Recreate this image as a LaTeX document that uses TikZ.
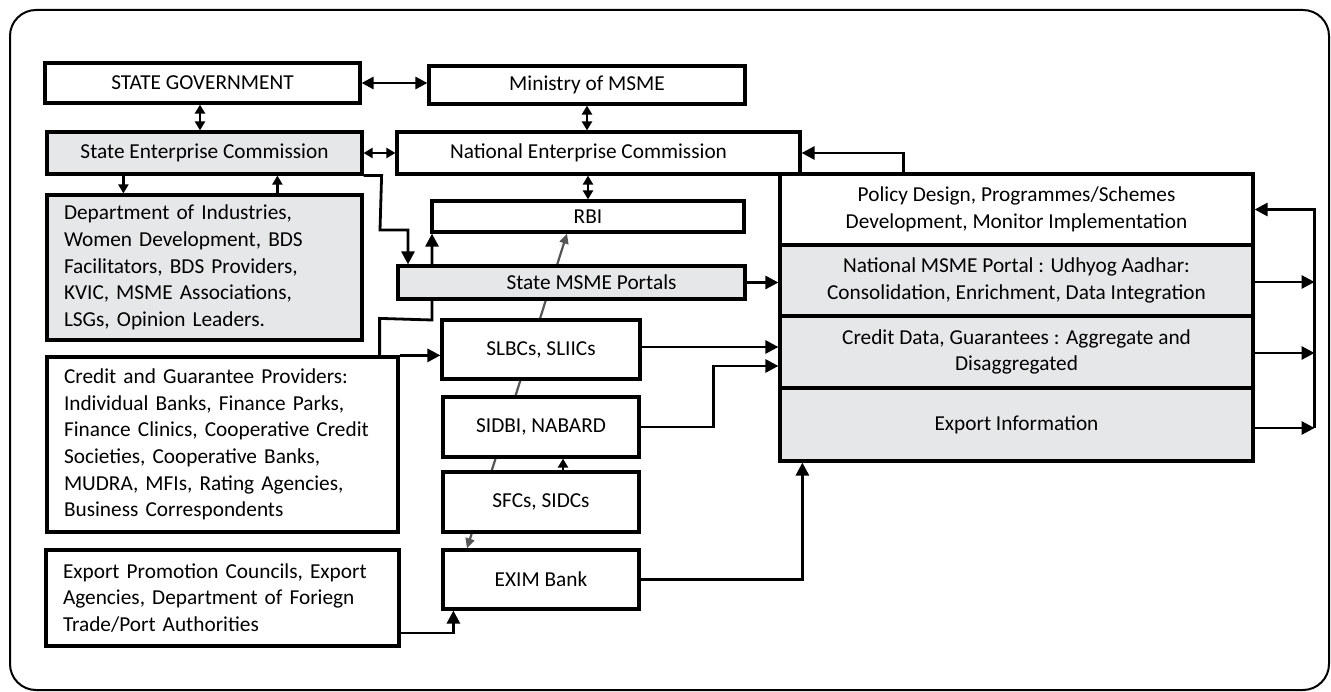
\documentclass[tikz,border=0pt]{standalone}
\usepackage{fontspec}
\setmainfont{Carlito}
\usetikzlibrary{arrows.meta,backgrounds,calc}
\definecolor{boxgray}{RGB}{230,231,232}
\definecolor{linegray}{RGB}{85,85,85}
\begin{document}
\begin{tikzpicture}[x=1pt,y=-1pt,
  box/.style={draw, line width=3.2pt, fill=white, align=center, inner sep=0pt,
    font=\fontsize{21.3}{26.7}\selectfont},
  gbox/.style={box, fill=boxgray},
  lbox/.style={align=left, inner xsep=17pt},
  arr/.style={line width=2.8pt, -{Triangle[length=13pt,width=13pt]}},
  sarr/.style={line width=2.8pt, -{Triangle[length=9pt,width=10pt]}},
  darr/.style={line width=2.8pt, {Triangle[length=12pt,width=12pt]}-{Triangle[length=12pt,width=12pt]}},
  vdarr/.style={line width=2.8pt, {Triangle[length=9pt,width=10pt]}-{Triangle[length=9pt,width=10pt]}},
  garr/.style={line width=2.2pt, draw=linegray, {Triangle[length=10pt,width=9pt,fill=linegray]}-{Triangle[length=10pt,width=9pt,fill=linegray]}},
]
\useasboundingbox (0,0) rectangle (1331,692);
\draw[line width=2pt, rounded corners=26pt] (10,10) rectangle (1329,690);

% left column
\node[box, minimum width=315pt, minimum height=40pt] (sg) at (202.5,83) {STATE GOVERNMENT};
\node[gbox, minimum width=315pt, minimum height=42pt] (sec) at (204.5,153) {State Enterprise Commission};
\node[gbox, lbox, text width=281pt, minimum height=145pt] (dept) at (204.5,267.5)
  {Department of Industries,\\ Women Development, BDS\\ Facilitators, BDS Providers,\\ KVIC, MSME Associations,\\ LSGs, Opinion Leaders.};
\node[box, lbox, text width=317pt, minimum height=175pt] (credit) at (222.5,444.5)
  {Credit and Guarantee Providers:\\ Individual Banks, Finance Parks,\\ Finance Clinics, Cooperative Credit\\ Societies, Cooperative Banks,\\ MUDRA, MFIs, Rating Agencies,\\ Business Correspondents};
\node[box, lbox, text width=319pt, minimum height=96pt] (export) at (222.5,598)
  {Export Promotion Councils, Export\\ Agencies, Department of Foriegn\\ Trade/Port Authorities};

% middle column
\node[box, minimum width=316pt, minimum height=38pt] (min) at (587,85) {Ministry of MSME};
\node[box, minimum width=403pt, minimum height=42pt] (nec) at (598.5,153) {National Enterprise Commission\hspace*{20pt}};
\node[box, minimum width=312pt, minimum height=31pt] (rbi) at (588,216.5) {RBI};
\node[gbox, minimum width=347pt, minimum height=33pt] (portal) at (571.5,282.5) {\hspace*{40pt}State MSME Portals};
\node[box, minimum width=198pt, minimum height=59pt] (slbc) at (541,349.5) {SLBCs, SLIICs};
\node[box, minimum width=196pt, minimum height=60pt] (sidbi) at (541,427) {SIDBI, NABARD};
\node[box, minimum width=196pt, minimum height=60pt] (sfc) at (541,502) {SFCs, SIDCs};
\node[box, minimum width=196pt, minimum height=59pt] (exim) at (541,579.5) {EXIM Bank};

% right block
\node[box, minimum width=473pt, minimum height=71pt] (policy) at (1016.5,209.5)
  {Policy Design, Programmes/Schemes\\ Development, Monitor Implementation};
\node[gbox, minimum width=473pt, minimum height=71pt] (natp) at (1016.5,280.5)
  {National MSME Portal : Udhyog Aadhar:\\ Consolidation, Enrichment, Data Integration};
\node[gbox, minimum width=473pt, minimum height=72pt] (cdata) at (1016.5,352)
  {Credit Data, Guarantees : Aggregate and\\ Disaggregated};
\node[gbox, minimum width=473pt, minimum height=73pt] (expi) at (1016.5,424.5)
  {Export Information};

% lines passing behind boxes
\begin{pgfonlayer}{background}
\draw[garr] ([xshift=-74pt]exim.north) -- ([xshift=-21pt]rbi.south);
\draw[arr] ([xshift=-20pt]credit.north east) -- ++(0,-37) -- (432,320) -- (432,320 |- rbi.south);
\end{pgfonlayer}

% connectors
\draw[darr] (sg.east) -- (sg.east -| min.west);
\draw[vdarr] (200,0 |- sg.south) -- (200,0 |- sec.north);
\draw[vdarr] (min.south) -- (min.south |- nec.north);
\draw[vdarr] (sec.east) -- (nec.west);
\draw[vdarr] (rbi.north |- nec.south) -- (rbi.north);
\draw[sarr] ([xshift=78pt]sec.south west) -- ([xshift=78pt]sec.south west |- dept.north);
\draw[sarr] ([xshift=232pt]sec.south west |- dept.north) -- ([xshift=232pt]sec.south west);
\draw[arr] (sec.south east) -- ++(18,0) -- (380,230) -- (408,230) -- (408,0 |- portal.north);
\draw[arr] (credit.north east) -- (credit.north east -| slbc.west);
\draw[arr] (portal.east) -- (portal.east -| natp.west);
\draw[arr] ([yshift=2.5pt]slbc.east) -- ([yshift=2.5pt]slbc.east -| cdata.west);
\draw[arr] (sidbi.east) -- ++(73,0) |- ([yshift=-14pt]cdata.west);
\draw[sarr] ([xshift=22pt]sfc.north) -- ([xshift=22pt]sidbi.south);
\draw[arr] (exim.east) -| ([xshift=24pt]expi.south west);
\draw[arr] ([yshift=-35pt]export.east) -| ([xshift=12pt]exim.south west);
\draw[arr] ([xshift=125pt]policy.north west) |- (nec.east);
\draw[arr] ([yshift=-1.5pt]natp.east) -- ++(60,0);
\draw[arr] ([yshift=-1pt]cdata.east) -- ++(60,0);
\draw[arr] ([yshift=-3.5pt]expi.east) -- ++(60,0);
\draw[arr] ([yshift=-3.5pt,xshift=60pt]expi.east) |- (policy.east);
\end{tikzpicture}
\end{document}
